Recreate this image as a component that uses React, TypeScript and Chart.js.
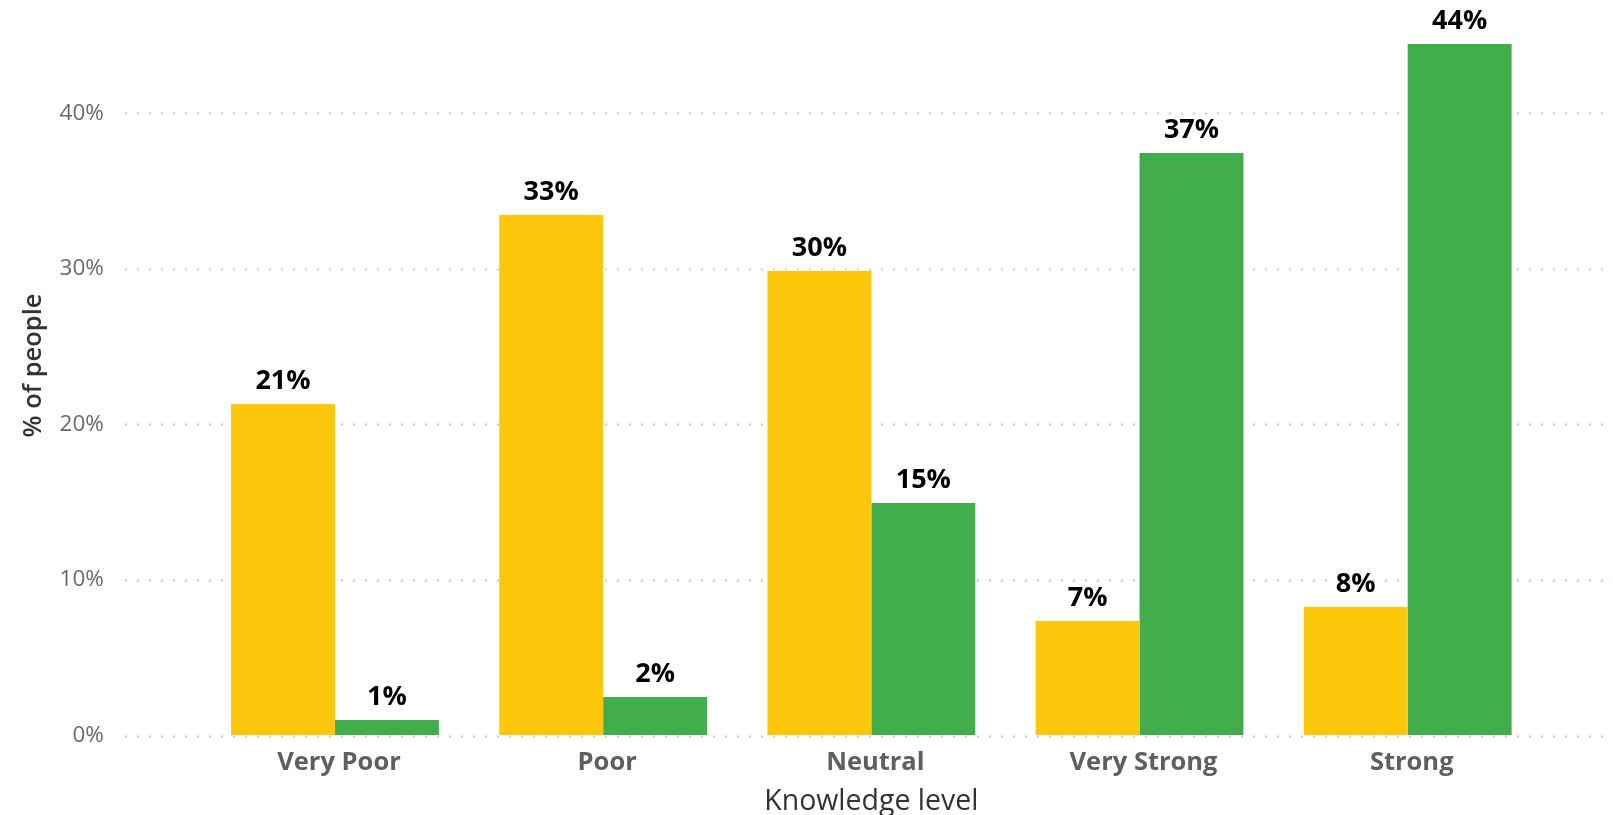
import React, { useEffect, useRef } from "react";
import { Chart, registerables } from "chart.js";

Chart.register(...registerables);

const categories = ["Very Poor", "Poor", "Neutral", "Very Strong", "Strong"];
const seriesYellow = [21.31, 33.45, 29.86, 7.36, 8.26];
const seriesGreen = [1.0, 2.48, 14.95, 37.44, 44.45];
const yTickValues = [0, 10, 20, 30, 40];
const yAxisTitle = "% of people";
const xAxisTitle = "Knowledge level";

const FONT = "'Open Sans', 'Noto Sans', sans-serif";

const gridPlugin = {
  id: "dottedGrid",
  beforeDatasetsDraw(chart: any) {
    const { ctx } = chart;
    const y = chart.scales.y;
    ctx.save();
    ctx.strokeStyle = "#c8c8c8";
    ctx.lineWidth = 2;
    ctx.setLineDash([2, 10]);
    y.ticks.forEach((t: any) => {
      const py = Math.round(y.getPixelForValue(t.value)) + 0.5;
      ctx.beginPath();
      ctx.moveTo(chart.chartArea.left - 76, py);
      ctx.lineTo(chart.width, py);
      ctx.stroke();
    });
    ctx.restore();
  },
};

const valueLabelPlugin = {
  id: "valueLabels",
  afterDatasetsDraw(chart: any) {
    const { ctx } = chart;
    ctx.save();
    ctx.font = `bold 27px ${FONT}`;
    ctx.fillStyle = "#000000";
    ctx.textAlign = "center";
    ctx.textBaseline = "middle";
    chart.data.datasets.forEach((ds: any, i: number) => {
      const meta = chart.getDatasetMeta(i);
      meta.data.forEach((el: any, j: number) => {
        const v = ds.data[j];
        ctx.fillText(`${Math.round(v)}%`, el.x, el.y - 22.5);
      });
    });
    ctx.restore();
  },
};

const yTitlePlugin = {
  id: "yTitle",
  afterDraw(chart: any) {
    const { ctx } = chart;
    const y = chart.scales.y;
    const cy = (y.top + y.bottom) / 2 - 20;
    ctx.save();
    ctx.translate(34, cy);
    ctx.rotate(-Math.PI / 2);
    ctx.font = `600 25.5px ${FONT}`;
    ctx.fillStyle = "#333333";
    ctx.textAlign = "center";
    ctx.textBaseline = "middle";
    ctx.fillText(yAxisTitle, 0, 0);
    ctx.restore();
  },
};

export default function App() {
  const ref = useRef<HTMLCanvasElement>(null);
  useEffect(() => {
    document.body.style.margin = "0";
    const chart = new Chart(ref.current!, {
      type: "bar",
      data: {
        labels: categories,
        datasets: [
          { label: "A", data: seriesYellow, backgroundColor: "#FDC70C", borderWidth: 0 },
          { label: "B", data: seriesGreen, backgroundColor: "#41AE4B", borderWidth: 0 },
        ],
      },
      options: {
        responsive: false,
        animation: false,
        layout: { autoPadding: false, padding: { top: 35.4, right: 71.2, left: 0, bottom: 0 } },
        plugins: { legend: { display: false }, tooltip: { enabled: false } },
        datasets: { bar: { categoryPercentage: 0.775, barPercentage: 1 } },
        scales: {
          x: {
            grid: { display: false, drawTicks: false },
            border: { display: false },
            ticks: {
              color: "#5f5f5f",
              font: { family: FONT, size: 25.5, weight: "bold" },
              padding: 12,
              labelOffset: 4,
              maxRotation: 0,
            },
            title: {
              display: true,
              text: xAxisTitle,
              color: "#333333",
              font: { family: FONT, size: 28.5, lineHeight: 0.9 },
              padding: { top: 0, bottom: 0 },
            },
            afterFit(scale: any) {
              scale.height = 79.4;
            },
          },
          y: {
            min: 0,
            max: 45,
            grid: {
              display: true,
              drawOnChartArea: false,
              drawTicks: true,
              tickLength: 97,
              color: "rgba(0,0,0,0)",
              tickColor: "rgba(0,0,0,0)",
            },
            border: { display: false },
            afterBuildTicks(scale: any) {
              scale.ticks = yTickValues.map((v) => ({ value: v }));
            },
            ticks: {
              color: "#6a6a6a",
              font: { family: FONT, size: 22.5 },
              padding: 0,
              callback: (v: any) => `${v}%`,
            },
            title: { display: false },
            afterFit(scale: any) {
              scale.width = 200.9;
            },
          },
        },
      },
      plugins: [gridPlugin, valueLabelPlugin, yTitlePlugin],
    });
    return () => chart.destroy();
  }, []);
  return <canvas ref={ref} width={1613} height={815} style={{ display: "block" }} />;
}
